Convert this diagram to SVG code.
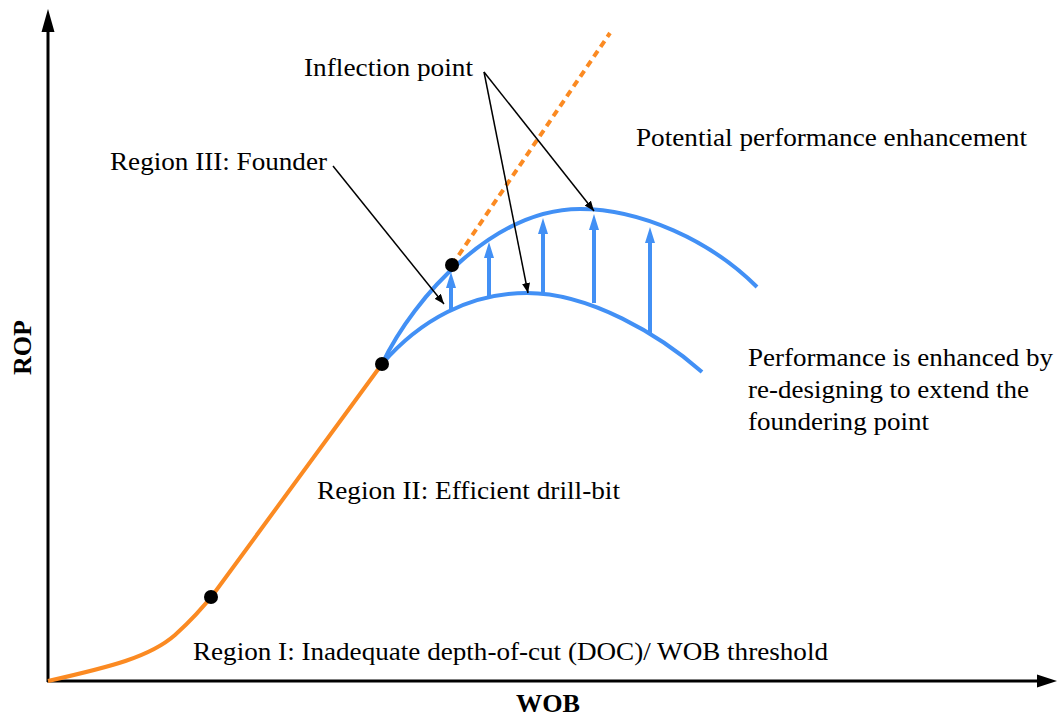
<svg xmlns="http://www.w3.org/2000/svg" width="1057" height="717" viewBox="0 0 1057 717">
<defs>
<style>
text{font-family:'Liberation Serif','Times New Roman','DejaVu Serif',serif;font-size:26px;fill:#000}
.b{font-weight:bold}
.axis{stroke:#000;stroke-width:3;fill:none}
.lead{stroke:#000;stroke-width:1.5;fill:none;marker-end:url(#ah)}
.blue{stroke:#4290f5;stroke-width:4;fill:none}
.barr{stroke:#4290f5;stroke-width:4;fill:none}
.orange{stroke:#fb8a22;stroke-width:4;fill:none}
.dot{fill:#000}
</style>
<marker id="ah" viewBox="0 0 10 8" refX="10" refY="4" markerWidth="10" markerHeight="8" markerUnits="userSpaceOnUse" orient="auto">
<path d="M0,0 L10,4 L0,8 z" fill="#000"/>
</marker>
</defs>
<rect width="1057" height="717" fill="#fff"/>
<g id="axes">
<line class="axis" x1="48" y1="682" x2="48" y2="30"/>
<path d="M48,9 L54.5,32 L41.5,32 z" fill="#000"/>
<line class="axis" x1="47" y1="681" x2="1038" y2="681"/>
<path d="M1057,681 L1037,674.5 L1037,687.5 z" fill="#000"/>
<text class="b" x="516" y="712" textLength="64" lengthAdjust="spacingAndGlyphs">WOB</text>
<text class="b" transform="translate(31,375) rotate(-90)" textLength="55" lengthAdjust="spacingAndGlyphs">ROP</text>
</g>
<g id="curves">
<path class="orange" d="M48,681 C110,667 150,657 175,635 C195,617 205,605 215,592 L382,364"/>
<path class="orange" d="M452,265 L610,33" stroke-dasharray="7,5"/>
<path class="blue" d="M382,364 C415,295 495,209 580,209 C640,209 710,240 757,287"/>
<path class="blue" d="M382,364 C420,320 470,293 527,293 C590,293 660,335 702,372"/>
</g>
<g id="enhancement-arrows">
<line class="barr" x1="451" y1="309" x2="451" y2="286"/>
<path d="M451,272 L456,288 L446,288 z" fill="#4290f5"/>
<line class="barr" x1="489" y1="298" x2="489" y2="256"/>
<path d="M489,242 L494,258 L484,258 z" fill="#4290f5"/>
<line class="barr" x1="543" y1="294" x2="543" y2="232"/>
<path d="M543,218 L548,234 L538,234 z" fill="#4290f5"/>
<line class="barr" x1="594" y1="303" x2="594" y2="228"/>
<path d="M594,214 L599,230 L589,230 z" fill="#4290f5"/>
<line class="barr" x1="650" y1="333" x2="650" y2="241"/>
<path d="M650,227 L655,243 L645,243 z" fill="#4290f5"/>
</g>
<g id="points">
<circle class="dot" cx="211" cy="597" r="7"/>
<circle class="dot" cx="382" cy="364" r="7"/>
<circle class="dot" cx="452" cy="265" r="7"/>
</g>
<g id="connectors">
<line class="lead" x1="333" y1="166" x2="444" y2="304"/>
<line class="lead" x1="484" y1="72" x2="594" y2="211"/>
<line class="lead" x1="484" y1="72" x2="528" y2="293"/>
</g>
<g id="labels">
<text x="304" y="76" textLength="169" lengthAdjust="spacingAndGlyphs">Inflection point</text>
<text x="110" y="170" textLength="217" lengthAdjust="spacingAndGlyphs">Region III: Founder</text>
<text x="636" y="146" textLength="391" lengthAdjust="spacingAndGlyphs">Potential performance enhancement</text>
<text x="748" y="366" textLength="305" lengthAdjust="spacingAndGlyphs">Performance is enhanced by</text>
<text x="748" y="398" textLength="281" lengthAdjust="spacingAndGlyphs">re-designing to extend the</text>
<text x="748" y="430" textLength="181" lengthAdjust="spacingAndGlyphs">foundering point</text>
<text x="317" y="499" textLength="303" lengthAdjust="spacingAndGlyphs">Region II: Efficient drill-bit</text>
<text x="193" y="660" textLength="635" lengthAdjust="spacingAndGlyphs">Region I: Inadequate depth-of-cut (DOC)/ WOB threshold</text>
</g>
</svg>
